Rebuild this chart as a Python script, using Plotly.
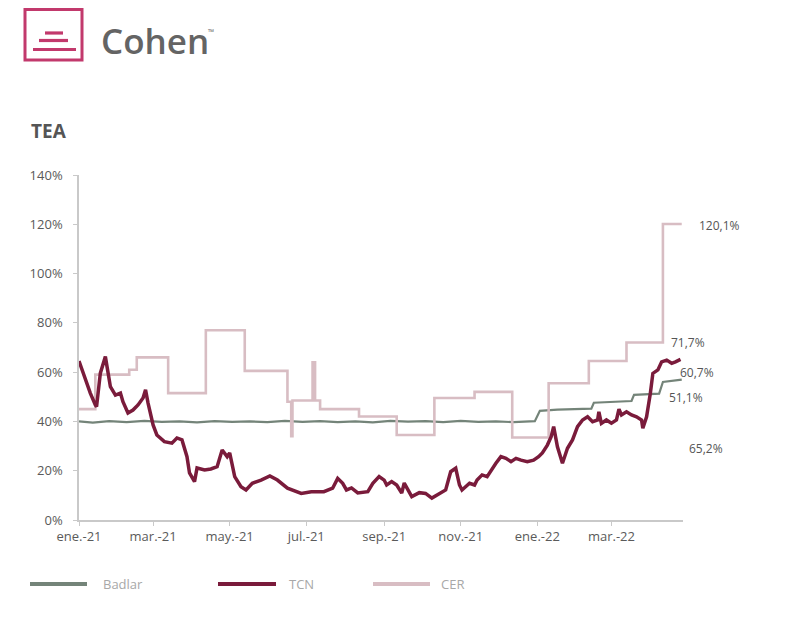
import plotly.graph_objects as go

# ---------------- data ----------------
tcn_dates = [
    "2021-01-01", "2021-01-06", "2021-01-10", "2021-01-14", "2021-01-15", "2021-01-18", "2021-01-22",
    "2021-01-24", "2021-01-26", "2021-01-30", "2021-02-03", "2021-02-05", "2021-02-09", "2021-02-13",
    "2021-02-17", "2021-02-21", "2021-02-23", "2021-02-25", "2021-03-01", "2021-03-04", "2021-03-10",
    "2021-03-16", "2021-03-20", "2021-03-24", "2021-03-28", "2021-03-30", "2021-04-03", "2021-04-05",
    "2021-04-11", "2021-04-16", "2021-04-21", "2021-04-25", "2021-04-29", "2021-05-01", "2021-05-05",
    "2021-05-10", "2021-05-14", "2021-05-19", "2021-05-26", "2021-06-02", "2021-06-08", "2021-06-16",
    "2021-06-27", "2021-07-05", "2021-07-15", "2021-07-22", "2021-07-26", "2021-07-30", "2021-08-02",
    "2021-08-06", "2021-08-11", "2021-08-19", "2021-08-23", "2021-08-28", "2021-09-01", "2021-09-03",
    "2021-09-07", "2021-09-11", "2021-09-15", "2021-09-17", "2021-09-19", "2021-09-23", "2021-09-29",
    "2021-10-04", "2021-10-09", "2021-10-15", "2021-10-20", "2021-10-24", "2021-10-28", "2021-10-31",
    "2021-11-02", "2021-11-08", "2021-11-12", "2021-11-14", "2021-11-18", "2021-11-22", "2021-11-26",
    "2021-11-29", "2021-12-03", "2021-12-07", "2021-12-11", "2021-12-15", "2021-12-19", "2021-12-24",
    "2021-12-29", "2022-01-02", "2022-01-05", "2022-01-09", "2022-01-12", "2022-01-14", "2022-01-17",
    "2022-01-21", "2022-01-25", "2022-01-29", "2022-02-02", "2022-02-06", "2022-02-10", "2022-02-14",
    "2022-02-18", "2022-02-19", "2022-02-21", "2022-02-25", "2022-03-01", "2022-03-05", "2022-03-07",
    "2022-03-09", "2022-03-13", "2022-03-17", "2022-03-21", "2022-03-25", "2022-03-26", "2022-03-29",
    "2022-04-01", "2022-04-03", "2022-04-07", "2022-04-10", "2022-04-14", "2022-04-18", "2022-04-21",
    "2022-04-25",
]
tcn_values = [
    64.5, 56.8, 51.5, 46.7, 46.0, 59.6, 66.3,
    60.2, 54.1, 50.7, 51.5, 48.0, 43.4, 44.6,
    46.7, 49.5, 52.8, 47.4, 38.6, 34.5, 31.8,
    31.2, 33.3, 32.5, 25.7, 19.1, 15.6, 21.1,
    20.3, 20.7, 21.6, 28.4, 25.7, 27.2, 17.6,
    13.5, 12.2, 14.9, 16.2, 17.9, 16.2, 12.9,
    10.8, 11.5, 11.5, 12.9, 16.9, 14.9, 12.2,
    13.0, 11.0, 11.5, 14.9, 17.6, 16.2, 14.2,
    15.6, 14.2, 10.9, 15.0, 13.0, 9.5, 11.1,
    10.8, 8.9, 10.8, 12.2, 19.6, 21.0, 14.2,
    12.2, 14.9, 14.2, 16.2, 18.3, 17.6, 21.0,
    23.0, 25.7, 25.0, 23.7, 25.0, 24.3, 23.7,
    24.3, 25.7, 27.2, 30.4, 33.8, 37.9, 29.7,
    23.0, 29.1, 32.5, 37.9, 40.6, 41.9, 39.9,
    40.6, 43.9, 39.2, 40.6, 39.3, 40.6, 45.0,
    42.6, 43.9, 42.6, 41.9, 40.6, 37.2, 41.9,
    51.4, 59.5, 60.9, 64.2, 64.9, 63.6, 64.2,
    65.2,
]

badlar_dates = [
    "2021-01-01", "2021-01-12", "2021-01-25", "2021-02-08", "2021-02-22", "2021-03-08", "2021-03-22",
    "2021-04-05", "2021-04-19", "2021-05-03", "2021-05-17", "2021-05-31", "2021-06-14", "2021-06-28",
    "2021-07-12", "2021-07-26", "2021-08-09", "2021-08-23", "2021-09-06", "2021-09-20", "2021-10-04",
    "2021-10-18", "2021-11-01", "2021-11-15", "2021-11-29", "2021-12-13", "2021-12-30", "2022-01-03",
    "2022-01-17", "2022-01-31", "2022-02-13", "2022-02-15", "2022-03-01", "2022-03-17", "2022-03-19",
    "2022-04-01", "2022-04-08", "2022-04-11", "2022-04-26",
]
badlar_values = [
    40.0, 39.5, 40.1, 39.7, 40.2, 39.8, 40.0,
    39.6, 40.1, 39.8, 40.0, 39.7, 40.2, 39.8,
    40.1, 39.7, 40.0, 39.6, 40.2, 39.9, 40.1,
    39.7, 40.2, 39.8, 40.0, 39.7, 40.1, 44.3,
    44.8, 45.0, 45.2, 47.6, 48.0, 48.3, 50.8,
    51.1, 51.3, 56.0, 57.0,
]

cer_dates = [
    "2021-01-01", "2021-01-14", "2021-02-10", "2021-02-16", "2021-03-13", "2021-04-12", "2021-05-13",
    "2021-06-16", "2021-06-19", "2021-06-20", "2021-07-06", "2021-07-08", "2021-07-12", "2021-08-12",
    "2021-09-11", "2021-10-11", "2021-11-12", "2021-12-12", "2022-01-10", "2022-02-11", "2022-03-13",
    "2022-04-11", "2022-04-26",
]
cer_values = [
    45.0, 59.0, 61.0, 66.0, 51.5, 77.0, 60.5,
    48.0, 34.0, 48.5, 64.0, 48.5, 45.0, 42.0,
    34.5, 49.5, 52.0, 33.5, 55.5, 64.5, 72.0,
    120.1, 120.1,
]

x_tick_dates = ["2021-01-01", "2021-03-01", "2021-05-01", "2021-07-01", "2021-09-01",
                "2021-11-01", "2022-01-01", "2022-03-01"]
x_tick_labels = ["ene.-21", "mar.-21", "may.-21", "jul.-21", "sep.-21",
                 "nov.-21", "ene.-22", "mar.-22"]
y_tick_vals = [0, 20, 40, 60, 80, 100, 120, 140]
y_tick_labels = ["0%", "20%", "40%", "60%", "80%", "100%", "120%", "140%"]

end_labels = ["120,1%", "71,7%", "60,7%", "51,1%", "65,2%"]

series_names = ["Badlar", "TCN", "CER"]
series_colors = ["#748479", "#7a1b3b", "#d8bdc3"]

# ---------------- layout helpers ----------------
OFF = 8  # page body margin
W, H = 800, 626
L, T = 79 - OFF, 175 - OFF
R = W - (683 - OFF)
B = H - (520 - OFF)
PW, PH = W - L - R, H - T - B


def px(x):
    return (x - OFF - L) / PW


def py(y):
    return (H - B - (y - OFF)) / PH


fig = go.Figure()
fig.add_trace(go.Scatter(x=badlar_dates, y=badlar_values, mode="lines", name="Badlar",
                         line=dict(color=series_colors[0], width=2.2), showlegend=False))
fig.add_trace(go.Scatter(x=cer_dates, y=cer_values, mode="lines", name="CER",
                         line=dict(color=series_colors[2], width=2.6, shape="hv"), showlegend=False))
fig.add_trace(go.Scatter(x=tcn_dates, y=tcn_values, mode="lines", name="TCN",
                         line=dict(color=series_colors[1], width=3.5), showlegend=False))

tick_font = dict(family="Open Sans, sans-serif", size=13, color="#5a5a5a")

fig.update_xaxes(type="date", range=["2021-01-01", "2022-04-27"],
                 tickvals=x_tick_dates, ticktext=x_tick_labels,
                 showgrid=False, zeroline=False, showline=True, linecolor="#c9c9c9", linewidth=1.5,
                 ticks="outside", ticklen=4, tickcolor="#c9c9c9", tickfont=tick_font)
fig.update_yaxes(range=[0, 140], tickvals=y_tick_vals, ticktext=y_tick_labels,
                 showgrid=False, zeroline=False, showline=True, linecolor="#c9c9c9", linewidth=1.5,
                 ticks="outside", ticklen=4, tickcolor="#c9c9c9", tickfont=tick_font,
                 ticklabelstandoff=8)

shapes = []
annotations = []

# logo
logo_color = "#c2396c"
shapes.append(dict(type="rect", xref="paper", yref="paper",
                   x0=px(25), x1=px(82), y0=py(60), y1=py(9.5),
                   line=dict(color=logo_color, width=3), fillcolor="rgba(0,0,0,0)"))
for (a, b, yy) in [(45, 63, 33), (39, 68, 40.5), (33, 76, 49.5)]:
    shapes.append(dict(type="line", xref="paper", yref="paper",
                       x0=px(a), x1=px(b), y0=py(yy), y1=py(yy),
                       line=dict(color=logo_color, width=3.2)))
annotations.append(dict(text="Cohen", xref="paper", yref="paper", x=px(99), y=py(40),
                        xanchor="left", yanchor="middle", showarrow=False,
                        font=dict(family="Open Sans, sans-serif", size=35, color="#646464",
                                  weight=600)))
annotations.append(dict(text="™", xref="paper", yref="paper", x=px(206), y=py(31),
                        xanchor="left", yanchor="middle", showarrow=False,
                        font=dict(family="Open Sans, sans-serif", size=8, color="#646464")))

# title
annotations.append(dict(text="<b>TEA</b>", xref="paper", yref="paper", x=px(29), y=py(131),
                        xanchor="left", yanchor="middle", showarrow=False,
                        font=dict(family="Open Sans, sans-serif", size=19, color="#555555")))

# end labels
label_pos = [(697, 225), (669, 342), (678, 372), (667, 397), (687, 448)]
for txt, (lx, ly) in zip(end_labels, label_pos):
    annotations.append(dict(text=txt, xref="paper", yref="paper", x=px(lx), y=py(ly),
                            xanchor="left", yanchor="middle", showarrow=False,
                            font=dict(family="Open Sans, sans-serif", size=12, color="#555555")))

# custom legend
leg = [(30, 87, 101), (218, 276, 287), (373, 430, 439)]
for name, color, (a, b, tx) in zip(series_names, series_colors, leg):
    shapes.append(dict(type="line", xref="paper", yref="paper",
                       x0=px(a), x1=px(b), y0=py(584), y1=py(584),
                       line=dict(color=color, width=4)))
    annotations.append(dict(text=name, xref="paper", yref="paper", x=px(tx), y=py(584),
                            xanchor="left", yanchor="middle", showarrow=False,
                            font=dict(family="Open Sans, sans-serif", size=13, color="#a8a8a8")))

fig.update_layout(width=W, height=H, margin=dict(l=L, r=R, t=T, b=B),
                  plot_bgcolor="white", paper_bgcolor="white",
                  shapes=shapes, annotations=annotations, showlegend=False)

fig.write_html("out.html")
